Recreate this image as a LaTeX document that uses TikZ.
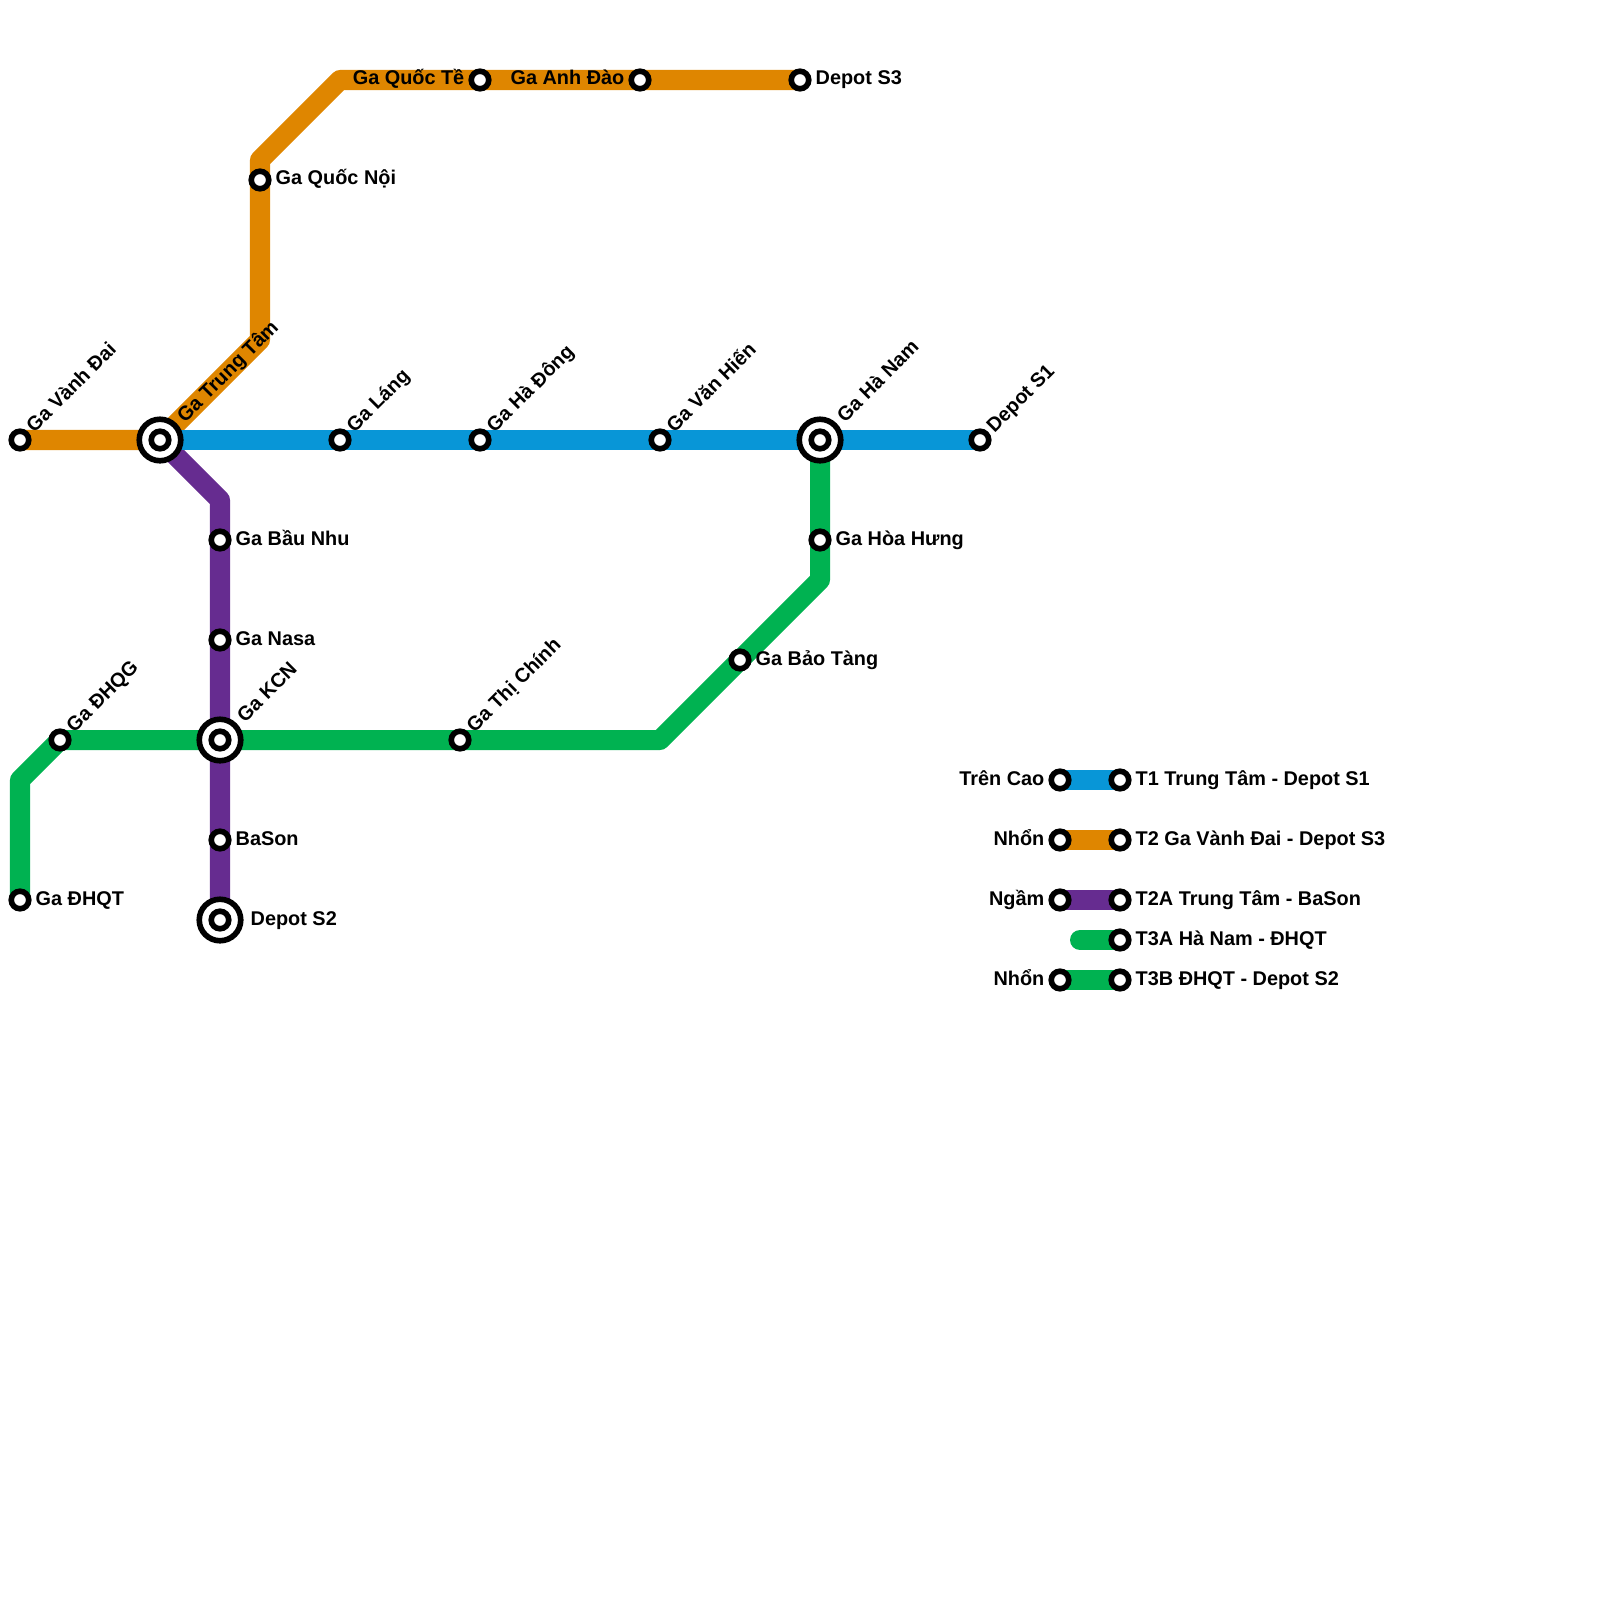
\documentclass[tikz,border=0pt]{standalone}
\usepackage{fontspec}
\setmainfont{Liberation Sans}
\usepackage{xcolor}
\usetikzlibrary{backgrounds}
\definecolor{lineone}{HTML}{0896D7}
\definecolor{linetwo}{HTML}{DF8600}
\definecolor{linetwoa}{HTML}{662C90}
\definecolor{linethree}{HTML}{00B251}
\tikzset{
  stn/.style   = {circle, draw=black, fill=white, line width=1.6pt, minimum size=4.98pt, inner sep=0pt},
  hub/.style   = {circle, draw=black, fill=white, line width=1.6pt, minimum size=11.8pt, inner sep=0pt},
  track/.style = {line width=5.69pt, line cap=round, line join=round},
  lbl/.style   = {font=\fontsize{5.65pt}{6.5pt}\selectfont\bfseries, inner sep=0pt, text=black},
}
\newcommand{\stn}[3]{\node[stn] (#1) at (#2,#3) {};}
\newcommand{\hubstn}[3]{\node[hub] (#1) at (#2,#3) {}; \node[stn] (#1i) at (#2,#3) {};}
\newcommand{\east}[4]{\node[lbl, anchor=base west] (#1t) at (#2+15,#3+5) {#4};}
\newcommand{\west}[4]{\node[lbl, anchor=base east] (#1t) at (#2-15,#3+5) {#4};}
\newcommand{\diag}[4]{\node[lbl, anchor=base west, rotate=45] (#1t) at (#2+14,#3-6) {#4};}
\newcommand{\diaghub}[4]{\node[lbl, anchor=base west, rotate=45] (#1t) at (#2+24.5,#3-16.5) {#4};}

\begin{document}
\begin{tikzpicture}[x=0.01cm,y=-0.01cm]
\useasboundingbox (0,0) rectangle (1600,1600);

% ------------------------------------------------------------------ stations
\stn{vanhdai}{20}{440}
\hubstn{trungtam}{160}{440}
\stn{lang}{340}{440}
\stn{hadong}{480}{440}
\stn{vanhien}{660}{440}
\hubstn{hanam}{820}{440}
\stn{depotone}{980}{440}

\stn{quocnoi}{260}{180}
\stn{quocte}{480}{80}
\stn{anhdao}{640}{80}
\stn{depotthree}{800}{80}

\stn{baunhu}{220}{540}
\stn{nasa}{220}{640}
\hubstn{kcn}{220}{740}
\stn{bason}{220}{840}
\hubstn{depottwo}{220}{920}

\stn{dhqt}{20}{900}
\stn{dhqg}{60}{740}
\stn{thichinh}{460}{740}
\stn{baotang}{740}{660}
\stn{hoahung}{820}{540}

% ------------------------------------------------------------------ bends
\coordinate (b1) at (260,340);
\coordinate (b2) at (260,160);
\coordinate (b3) at (340,80);
\coordinate (b4) at (220,500);
\coordinate (b5) at (20,780);
\coordinate (b6) at (660,740);
\coordinate (b7) at (820,580);
\coordinate (k3a) at (1080,940);

% ------------------------------------------------------------------ legend
\stn{k1a}{1060}{780}
\stn{k1b}{1120}{780}
\stn{k2a}{1060}{840}
\stn{k2b}{1120}{840}
\stn{k4a}{1060}{900}
\stn{k4b}{1120}{900}
\stn{k5b}{1120}{940}
\stn{k6a}{1060}{980}
\stn{k6b}{1120}{980}

% ------------------------------------------------------------------ lines
\begin{scope}[on background layer]
\draw[track, linetwo] (vanhdai.center) -- (trungtam.center) -- (b1) -- (b2) -- (b3) -- (depotthree.center);
\draw[track, linetwoa] (trungtam.center) -- (b4) -- (depottwo.center);
\draw[track, linethree] (dhqt.center) -- (b5) -- (dhqg.center) -- (b6) -- (b7) -- (hanam.center);
\draw[track, lineone] (trungtam.center) -- (depotone.center);
\draw[track, lineone] (k1a.center) -- (k1b.center);
\draw[track, linetwo] (k2a.center) -- (k2b.center);
\draw[track, linetwoa] (k4a.center) -- (k4b.center);
\draw[track, linethree] (k3a) -- (k5b.center);
\draw[track, linethree] (k6a.center) -- (k6b.center);
\end{scope}

% ------------------------------------------------------------------ labels
\diag{vanhdai}{20}{440}{Ga Vành Đai}
\diaghub{trungtam}{160}{440}{Ga Trung Tâm}
\diag{lang}{340}{440}{Ga Láng}
\diag{hadong}{480}{440}{Ga Hà Đông}
\diag{vanhien}{660}{440}{Ga Văn Hiến}
\diaghub{hanam}{820}{440}{Ga Hà Nam}
\diag{depotone}{980}{440}{Depot S1}

\east{quocnoi}{260}{180}{Ga Quốc Nội}
\west{quocte}{480}{80}{Ga Quốc Tề}
\west{anhdao}{640}{80}{Ga Anh Đào}
\east{depotthree}{800}{80}{Depot S3}

\east{baunhu}{220}{540}{Ga Bầu Nhu}
\east{nasa}{220}{640}{Ga Nasa}
\diaghub{kcn}{220}{740}{Ga KCN}
\east{bason}{220}{840}{BaSon}
\east{depottwo}{235}{920}{Depot S2}

\east{dhqt}{20}{900}{Ga ĐHQT}
\diag{dhqg}{60}{740}{Ga ĐHQG}
\diag{thichinh}{460}{740}{Ga Thị Chính}
\east{baotang}{740}{660}{Ga Bảo Tàng}
\east{hoahung}{820}{540}{Ga Hòa Hưng}

\west{k1a}{1060}{780}{Trên Cao}
\east{k1b}{1120}{780}{T1 Trung Tâm - Depot S1}
\west{k2a}{1060}{840}{Nhổn}
\east{k2b}{1120}{840}{T2 Ga Vành Đai - Depot S3}
\west{k4a}{1060}{900}{Ngầm}
\east{k4b}{1120}{900}{T2A Trung Tâm - BaSon}
\east{k5b}{1120}{940}{T3A Hà Nam - ĐHQT}
\west{k6a}{1060}{980}{Nhổn}
\east{k6b}{1120}{980}{T3B ĐHQT - Depot S2}

\end{tikzpicture}
\end{document}
